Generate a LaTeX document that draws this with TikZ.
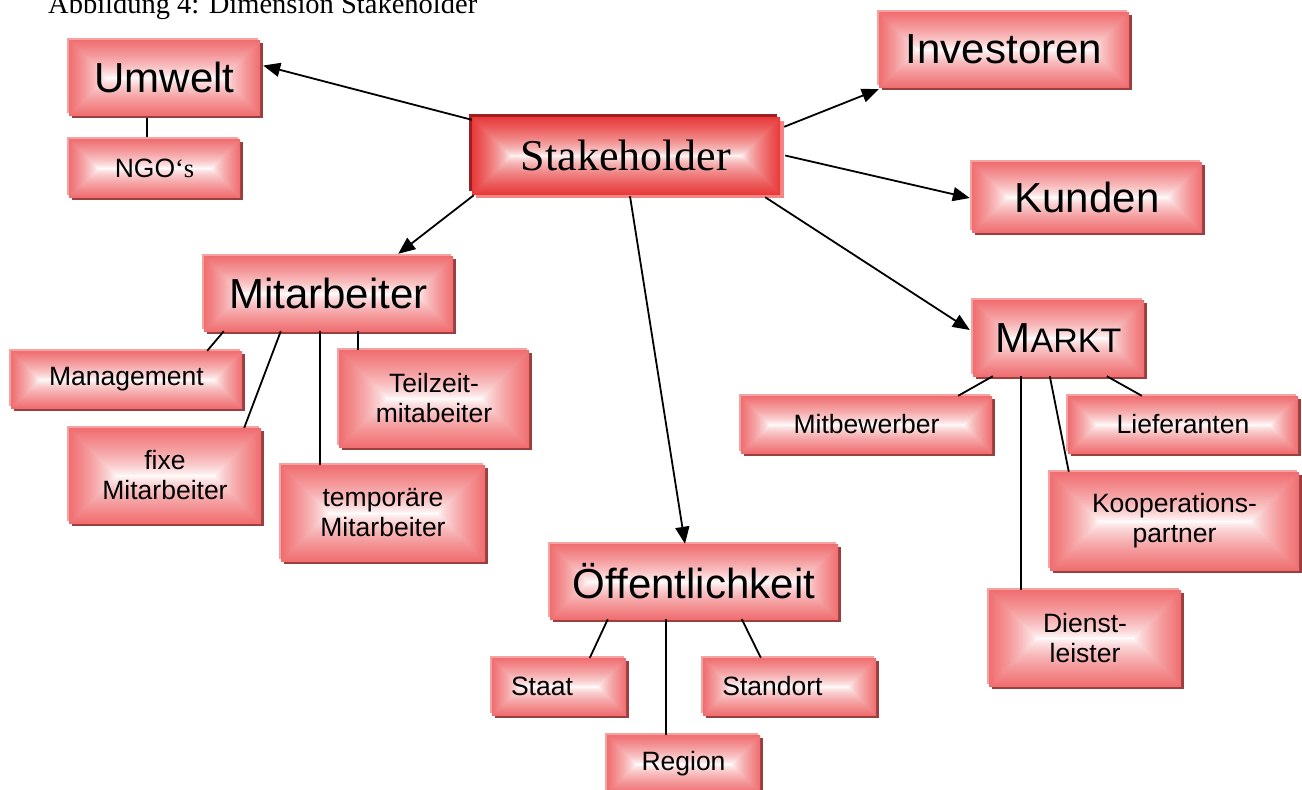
\documentclass[tikz,border=0pt]{standalone}
\usepackage{fontspec}
\setmainfont{Liberation Serif}
\newfontfamily\arial{Liberation Sans}
\usetikzlibrary{shadows,arrows.meta}
\definecolor{boxhl}{HTML}{F4A2A2}
\definecolor{boxdk}{HTML}{9A3E3E}
\definecolor{stdk}{HTML}{9E1F1F}
\definecolor{sthl}{HTML}{F58585}
\tikzset{
  box/.style={rectangle, inner sep=0pt, align=center, draw=none,
    font=\arial\fontsize{26.5}{30}\selectfont,
    general shadow={fill=boxhl, shadow xshift=-2pt, shadow yshift=2pt},
    general shadow={fill=boxdk, shadow xshift=3pt, shadow yshift=-3pt}},
  big/.style={font=\arial\fontsize{42}{48}\selectfont},
  stbox/.style={rectangle, inner sep=0pt, align=center, draw=none,
    font=\fontsize{44}{50}\selectfont,
    general shadow={fill=stdk, shadow xshift=-3pt, shadow yshift=3pt},
    general shadow={fill=sthl, shadow xshift=4pt, shadow yshift=-4pt}},
  conn/.style={line width=1.8pt, black},
  arr/.style={conn, -{Triangle[length=17pt,width=14pt]}}
}
\newcommand\bx[7][]{%
  \pgfdeclarefunctionalshading{sh#2}{\pgfpointorigin}{\pgfpoint{100bp}{100bp}}{}{
    50 sub abs 25 div exch 50 sub abs 25 div #5 mul #6 div #5 #6 div 1 sub sub
    2 copy sub abs add add 2 div
    dup 1 sub abs neg 1 add add 2 div
    dup abs add 2 div 0.7 exp
    dup -0.06 mul 1 add exch dup -0.57 mul 1 add exch -0.56 mul 1 add}%
  \node[box,#1, minimum width=#5pt, minimum height=#6pt, shading=sh#2] (#2) at (#3,#4) {#7};}
\pgfdeclarefunctionalshading{shst}{\pgfpointorigin}{\pgfpoint{100bp}{100bp}}{}{
    50 sub abs 25 div exch 50 sub abs 25 div 308 mul 77 div 308 77 div 1 sub sub
    2 copy sub abs add add 2 div
    dup 1 sub abs neg 1 add add 2 div
    dup abs add 2 div 0.6 exp
    dup -0.09 mul 1 add exch dup -0.773 mul 1 add exch -0.773 mul 1 add}
\begin{document}
\begin{tikzpicture}[x=1pt,y=-1pt]
\useasboundingbox (0,0) rectangle (1302,790);
\node[anchor=base west, inner sep=0pt, font=\fontsize{28.5}{34}\selectfont] (cap) at (48,13) {Abbildung 4: Dimension Stakeholder};

\node[stbox, minimum width=308pt, minimum height=77pt, shading=shst] (st) at (626,155.5) {Stakeholder};

\bx[big]{umw}{164.5}{77.5}{191}{75}{Umwelt}
\bx{ngo}{154.5}{168}{171}{58}{NGO{\rmfamily‘s}}
\bx[big]{inv}{1004}{49.5}{250}{75}{Investoren}
\bx[big]{kun}{1087}{197}{230}{70}{Kunden}
\bx[big]{mit}{328.5}{293.5}{249}{75}{Mitarbeiter}
\bx{mgmt}{126.5}{379.5}{231}{57}{Management}
\bx{fixe}{165}{475.5}{192}{95}{fixe\\Mitarbeiter}
\bx{temp}{383}{513}{204}{96}{temporäre\\Mitarbeiter}
\bx{teil}{434}{398.5}{190}{97}{Teilzeit-\\mitabeiter}
\bx{mkt}{1058.5}{338}{171}{76}{{\fontsize{42}{48}\selectfont M}{\fontsize{34}{40}\selectfont ARKT}}
\bx{mitb}{866.5}{424.5}{251}{57}{Mitbewerber}
\bx{lief}{1183}{424.5}{230}{57}{Lieferanten}
\bx{koop}{1174.5}{521}{249}{98}{Kooperations-\\partner}
\bx{dien}{1085}{638}{192}{96}{Dienst-\\leister}
\bx[big]{oef}{694}{581.5}{288}{75}{Öffentlichkeit}
\bx{staat}{559}{686.5}{134}{57}{Staat\hspace*{34pt}}
\bx{stand}{789.5}{686.5}{173}{57}{Standort\hspace*{34pt}}
\bx{reg}{683.5}{764}{153}{58}{Region}

% arrows from Stakeholder
\draw[arr] ([yshift=-3pt]st.north west) -- ([xshift=3pt,yshift=12pt]umw.east);
\draw[arr] ([xshift=4pt,yshift=-10pt]st.north east) -- ([yshift=-2pt]inv.south west);
\draw[arr] ([xshift=5pt]st.east) -- ([xshift=-2pt,yshift=-1pt]kun.west);
\draw[arr] ([xshift=2pt,yshift=-1pt]st.south west) -- ([xshift=-55pt,yshift=2pt]mit.north east);
\draw[arr] ([xshift=4pt,yshift=-2pt]st.south) -- ([xshift=-9pt]oef.north);
\draw[arr] ([xshift=-15pt,yshift=-3pt]st.south east) -- ([xshift=-3pt,yshift=8pt]mkt.west);

% plain connectors
\draw[conn] ([xshift=-17.5pt,yshift=-3pt]umw.south) -- ([xshift=-7.5pt,yshift=2pt]ngo.north);
\draw[conn] ([xshift=20pt]mit.south west) -- ([xshift=-35pt]mgmt.north east);
\draw[conn] ([xshift=77pt]mit.south west) -- ([xshift=-17pt]fixe.north east);
\draw[conn] ([xshift=116pt]mit.south west) -- ([xshift=39pt]temp.north west);
\draw[conn] ([xshift=154pt]mit.south west) -- ([xshift=19pt]teil.north west);
\draw[conn] ([xshift=20pt]mkt.south west) -- ([xshift=-34pt]mitb.north east);
\draw[conn] ([xshift=48pt]mkt.south west) -- ([xshift=32pt]dien.north west);
\draw[conn] ([xshift=77pt]mkt.south west) -- ([xshift=19pt]koop.north west);
\draw[conn] ([xshift=134pt]mkt.south west) -- ([xshift=74pt]lief.north west);
\draw[conn] ([xshift=58pt]oef.south west) -- ([xshift=98pt]staat.north west);
\draw[conn] ([xshift=116pt]oef.south west) -- ([xshift=59pt]reg.north west);
\draw[conn] ([xshift=192pt]oef.south west) -- ([xshift=58pt]stand.north west);
\end{tikzpicture}
\end{document}
